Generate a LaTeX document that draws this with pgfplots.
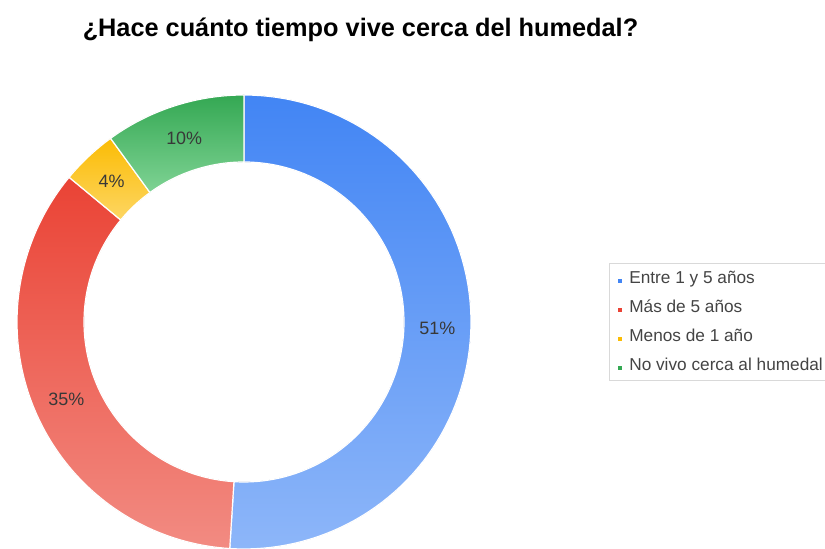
\documentclass[border=0pt]{standalone}
\usepackage{fontspec}
\setmainfont{Liberation Sans}
\usepackage{pgfplots}
\usepackage{pgfplotstable}
\pgfplotsset{compat=1.18}
\usepgfplotslibrary{fillbetween}

\definecolor{bTop}{HTML}{4285F4}\definecolor{bBot}{HTML}{8DB6F9}
\definecolor{rTop}{HTML}{EA4335}\definecolor{rBot}{HTML}{F28B82}
\definecolor{yTop}{HTML}{FBBC04}\definecolor{yBot}{HTML}{FDD663}
\definecolor{gTop}{HTML}{34A853}\definecolor{gBot}{HTML}{7FD394}
\definecolor{lblText}{HTML}{383838}
\definecolor{legText}{HTML}{444444}

% percentage of answers per category
\pgfplotstableread{
pct
51
35
4
10
}\slices

\def\cx{244}\def\cy{227}\def\Ro{227}\def\Ri{160}\def\Rm{193.5}

\newcommand\slice[5]{%
  \addplot[draw=none, forget plot, name path=o#5, domain=#1:#2, samples=90]
    ({\cx+\Ro*cos(x)},{\cy+\Ro*sin(x)});
  \addplot[draw=none, forget plot, name path=i#5, domain=#1:#2, samples=90]
    ({\cx+\Ri*cos(x)},{\cy+\Ri*sin(x)});
  \addplot[forget plot, top color=#3, bottom color=#4, draw=white, line width=1.2bp]
    fill between[of=o#5 and i#5];
}

\begin{document}
\begin{tikzpicture}[x=1bp,y=1bp]
\pgfplotstablegetelem{0}{pct}\of\slices \let\pA\pgfplotsretval
\pgfplotstablegetelem{1}{pct}\of\slices \let\pB\pgfplotsretval
\pgfplotstablegetelem{2}{pct}\of\slices \let\pC\pgfplotsretval
\pgfplotstablegetelem{3}{pct}\of\slices \let\pD\pgfplotsretval
\pgfmathsetmacro\aA{90}
\pgfmathsetmacro\aB{\aA-3.6*\pA}
\pgfmathsetmacro\aC{\aB-3.6*\pB}
\pgfmathsetmacro\aD{\aC-3.6*\pC}
\pgfmathsetmacro\aE{\aD-3.6*\pD}
\pgfmathsetmacro\mA{(\aA+\aB)/2}
\pgfmathsetmacro\mB{(\aB+\aC)/2}
\pgfmathsetmacro\mC{(\aC+\aD)/2}
\pgfmathsetmacro\mD{(\aD+\aE)/2}
\begin{axis}[
  width=825bp, height=549bp, scale only axis,
  xmin=0, xmax=825, ymin=0, ymax=549,
  hide axis, clip=false,
  legend columns=1,
  legend cell align=left,
  legend image code/.code={\fill[#1] (0bp,-5bp) rectangle (4bp,-1bp);},
  legend style={
    at={(609/825,286/549)}, anchor=north west,
    draw=black!15, line width=0.6bp, fill=white,
    font=\fontsize{17.3}{19}\selectfont, text=legText,
    inner xsep=9bp, inner ysep=7bp,
    column sep=7bp, row sep=13bp,
    nodes={inner sep=0pt, text height=13.5bp, text depth=2.5bp},
  },
]
\slice{\aB}{\aA}{bTop}{bBot}{1}
\slice{\aC}{\aB}{rTop}{rBot}{2}
\slice{\aD}{\aC}{yTop}{yBot}{3}
\slice{\aE}{\aD}{gTop}{gBot}{4}

\addlegendimage{fill=bTop, draw=none}\addlegendentry{Entre 1 y 5 años}
\addlegendimage{fill=rTop, draw=none}\addlegendentry{Más de 5 años}
\addlegendimage{fill=yTop, draw=none}\addlegendentry{Menos de 1 año}
\addlegendimage{fill=gTop, draw=none}\addlegendentry{No vivo cerca al humedal}

\node[font=\fontsize{18}{20}\selectfont, text=lblText] at (axis cs:{\cx+\Rm*cos(\mA)},{\cy+\Rm*sin(\mA)}) {\pA\%};
\node[font=\fontsize{18}{20}\selectfont, text=lblText] at (axis cs:{\cx+\Rm*cos(\mB)},{\cy+\Rm*sin(\mB)}) {\pB\%};
\node[font=\fontsize{18}{20}\selectfont, text=lblText] at (axis cs:{\cx+\Rm*cos(\mC)},{\cy+\Rm*sin(\mC)}) {\pC\%};
\node[font=\fontsize{18}{20}\selectfont, text=lblText] at (axis cs:{\cx+\Rm*cos(\mD)},{\cy+\Rm*sin(\mD)}) {\pD\%};

\node[font=\bfseries\fontsize{25.4}{28}\selectfont, text=black] at (axis cs:360.5,519) {¿Hace cuánto tiempo vive cerca del humedal?};
\end{axis}
\pgfresetboundingbox
\useasboundingbox (0,0) rectangle (825,549);
\end{tikzpicture}
\end{document}
